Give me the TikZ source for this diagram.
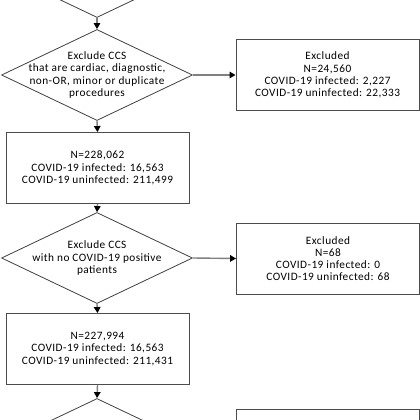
\documentclass[tikz,border=0pt]{standalone}
\usepackage{fontspec}
\setmainfont{Carlito}[LetterSpace=4]
\usepackage{tikz}
\usetikzlibrary{arrows.meta,positioning,shapes.geometric}

\begin{document}
\begin{tikzpicture}[
    x=1pt, y=-1pt,
    font=\fontsize{11.3}{12.2}\selectfont,
    box/.style={draw=black!70, line width=0.9pt, rectangle, align=center, minimum width=183pt, minimum height=71pt, inner sep=0pt},
    decision/.style={draw=black!75, line width=0.8pt, diamond, minimum width=191pt, minimum height=91pt, inner sep=0pt},
    line/.style={draw=black!50, line width=1.4pt, -{Triangle[length=6pt, width=6.5pt, color=black]}}
]
\useasboundingbox (0,0) rectangle (420,420);
\clip (0,0) rectangle (420,420);
% main column
\node[decision] (start) at (97,-28) {};
\node[decision, label={[align=center]center:Exclude CCS\\that are cardiac, diagnostic,\\non-OR, minor or duplicate\\procedures}] (excl1) at (97,75) {};
\node[box] (n1) at (97.5,168) {N=228,062\\COVID-19 infected: 16,563\\COVID-19 uninfected: 211,499};
\node[decision, label={[align=center]center:Exclude CCS\\with no COVID-19 positive\\patients}] (excl2) at (97,258) {};
\node[box] (n2) at (97.5,349) {N=227,994\\COVID-19 infected: 16,563\\COVID-19 uninfected: 211,431};
\node[decision] (within) at (97,444) {};
\node (withintext) at (97,425) {Within};
% excluded column
\node[box] (out1) at (327.5,75) {Excluded\\N=24,560\\COVID-19 infected: 2,227\\COVID-19 uninfected: 22,333};
\node[box] (out2) at (328,258.5) {Excluded\\N=68\\COVID-19 infected: 0\\COVID-19 uninfected: 68};
\node[box] (out3) at (328,445) {};
% connectors
\draw[line] (start.south) -- (excl1.north);
\draw[line] (excl1.south) -- (n1.north);
\draw[line] (n1.south) -- (excl2.north);
\draw[line] (excl2.south) -- (n2.north);
\draw[line] (n2.south) -- (within.north);
\draw[line] (excl1.east) -- (out1.west);
\draw[line] (excl2.east) -- (out2.west);
\end{tikzpicture}
\end{document}
